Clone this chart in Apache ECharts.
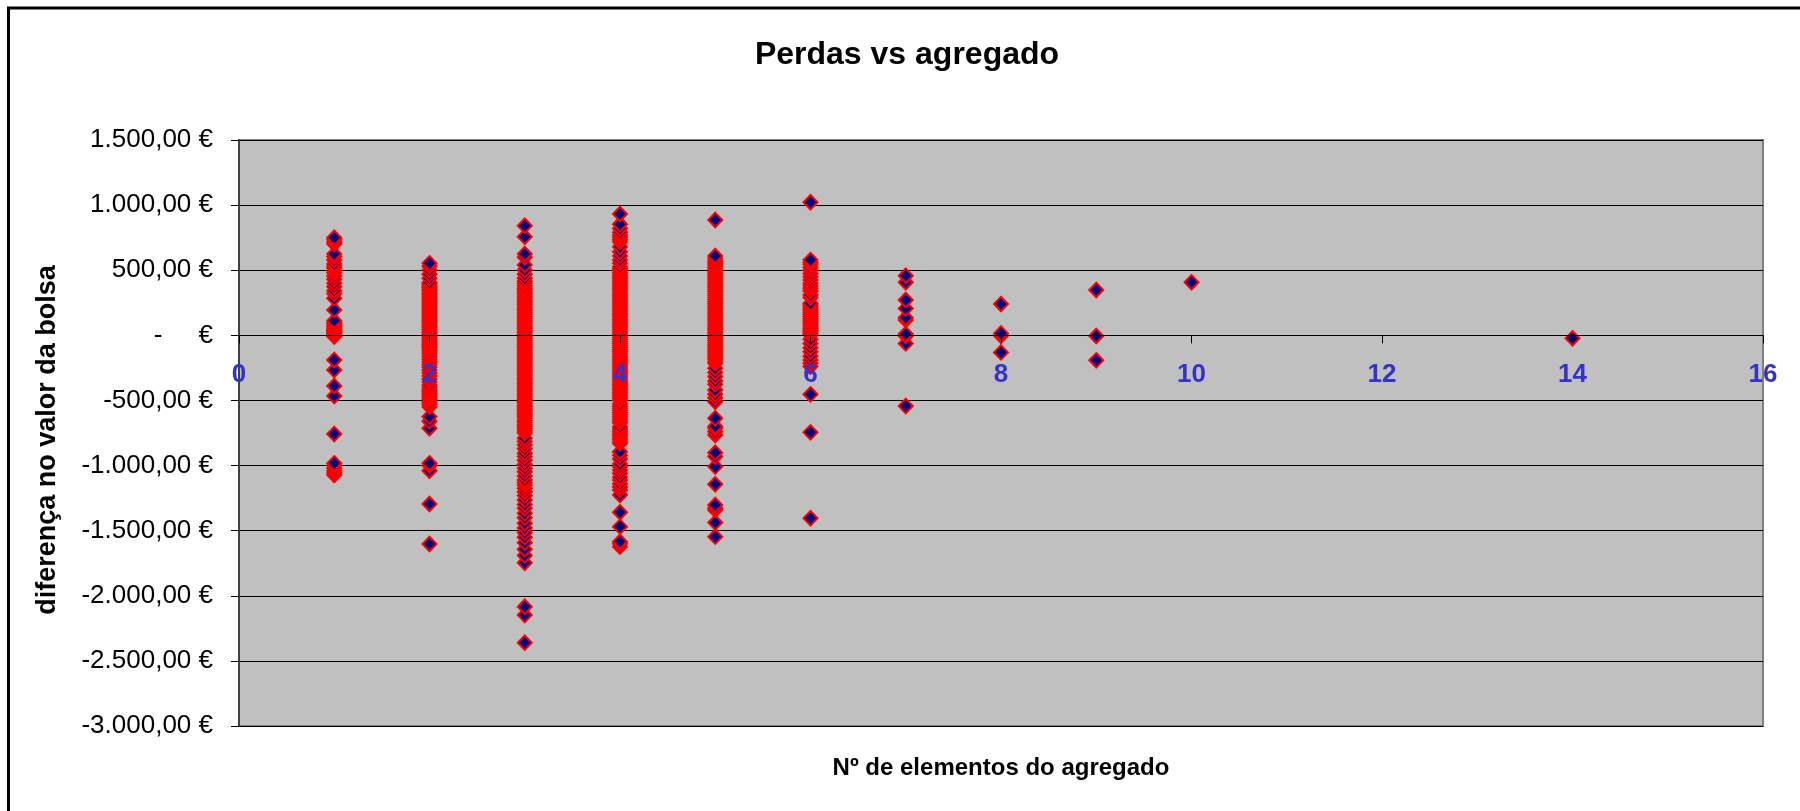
<!DOCTYPE html>
<html>
<head>
<meta charset="utf-8">
<script src="https://cdn.jsdelivr.net/npm/echarts@6/dist/echarts.min.js"></script>
<style>
html,body{margin:0;padding:0;background:#ffffff;}
#chart{width:1800px;height:811px;}
</style>
</head>
<body>
<div id="chart"></div>
<script>
// ---- texts ----
const chartTitle = 'Perdas vs agregado';
const xAxisTitle = 'Nº de elementos do agregado';
const yAxisTitle = 'diferença no valor da bolsa';

// ---- axis ticks ----
const xTicks = [0, 2, 4, 6, 8, 10, 12, 14, 16];
const yTicks = [-3000, -2500, -2000, -1500, -1000, -500, 0, 500, 1000, 1500];

// ---- data: loss (€) per aggregate size ----
const agg1 = [750, 735, 719, 701, 625, 605, 578, 548, 530, 515, 495, 481, 456, 430, 400, 374, 343, 320, 284, 195, 112, 100, 88, 76, 65, 55, 46, 37, 29, 21, 13, 6, -2, -9, -189, -266, -389, -466, -758, -983, -1000, -1021, -1040, -1055, -1073];
const agg2 = [553, 530, 502, 469, 438, 405, 392, 378, 365, 350, 338, 322, 310, 295, 281, 268, 252, 240, 225, 212, 198, 183, 170, 155, 141, 128, 113, 100, 86, 72, 58, 45, 30, 17, 3, -12, -26, -40, -55, -68, -82, -95, -113, -128, -146, -165, -185, -205, -225, -245, -268, -290, -312, -335, -356, -381, -400, -420, -434, -447, -460, -473, -490, -512, -530, -548, -625, -660, -714, -983, -1000, -1040, -1295, -1602];
const agg3 = [842, 757, 625, 600, 540, 502, 470, 438, 415, 400, 380, 362, 348, 330, 315, 298, 282, 266, 250, 236, 220, 204, 190, 175, 160, 143, 128, 112, 98, 82, 66, 52, 36, 20, 5, -10, -25, -40, -56, -70, -86, -100, -116, -130, -146, -160, -176, -190, -205, -220, -236, -250, -266, -280, -295, -310, -326, -340, -356, -370, -385, -400, -416, -430, -446, -460, -476, -490, -506, -520, -536, -550, -566, -580, -596, -610, -622, -637, -655, -670, -686, -700, -716, -732, -750, -790, -815, -842, -870, -906, -930, -960, -991, -1020, -1047, -1080, -1111, -1130, -1149, -1175, -1201, -1230, -1264, -1300, -1328, -1367, -1400, -1443, -1480, -1515, -1550, -1592, -1643, -1690, -1746, -2084, -2148, -2360];
const agg4 = [932, 853, 820, 791, 770, 753, 735, 719, 680, 642, 610, 578, 555, 527, 512, 497, 482, 466, 450, 435, 420, 404, 388, 373, 358, 342, 326, 310, 295, 280, 264, 248, 233, 218, 202, 186, 170, 155, 140, 124, 108, 92, 77, 62, 46, 30, 15, 0, -16, -32, -47, -62, -78, -94, -110, -125, -140, -156, -172, -188, -203, -218, -234, -250, -266, -281, -296, -312, -328, -344, -360, -375, -390, -406, -422, -438, -453, -468, -484, -500, -527, -545, -560, -576, -592, -608, -624, -640, -656, -672, -702, -720, -736, -752, -768, -784, -800, -816, -830, -894, -920, -950, -988, -1010, -1034, -1060, -1090, -1111, -1142, -1165, -1188, -1226, -1359, -1469, -1585, -1600, -1623];
const agg5 = [886, 609, 590, 570, 555, 540, 525, 510, 494, 478, 463, 448, 432, 416, 400, 385, 370, 354, 338, 322, 306, 290, 275, 260, 244, 228, 212, 196, 180, 165, 150, 134, 118, 102, 86, 70, 55, 40, 24, 8, -8, -24, -40, -56, -72, -88, -104, -120, -136, -152, -168, -184, -200, -215, -253, -285, -317, -350, -376, -420, -453, -480, -510, -637, -700, -714, -740, -765, -901, -930, -1008, -1144, -1303, -1325, -1341, -1438, -1546];
const agg6 = [1022, 578, 560, 545, 522, 500, 475, 450, 425, 400, 380, 361, 340, 310, 290, 246, 232, 220, 205, 190, 175, 160, 145, 130, 115, 100, 85, 70, 55, 40, 27, 15, 2, -30, -62, -95, -126, -160, -189, -215, -240, -453, -745, -1405];
const agg7 = [458, 407, 271, 207, 135, 118, 10, -5, -62, -543];
const agg8 = [240, 15, -3, -131];
const agg9 = [348, -5, -192];
const agg10 = [407];
const agg14 = [-23];

const aggregateSizes = [1, 2, 3, 4, 5, 6, 7, 8, 9, 10, 14];
const aggregateValues = [agg1, agg2, agg3, agg4, agg5, agg6, agg7, agg8, agg9, agg10, agg14];

// build scatter points (drawn from the lowest value upwards, like the original)
const points = [];
aggregateSizes.forEach(function (n, i) {
  aggregateValues[i].slice().sort(function (a, b) { return a - b; }).forEach(function (v) {
    points.push([n, v]);
  });
});

function euroLabel(v) {
  if (v === 0) return '-     €';
  const parts = Math.abs(v).toFixed(2).split('.');
  const intPart = parts[0].replace(/\B(?=(\d{3})+(?!\d))/g, '.');
  return (v < 0 ? '-' : '') + intPart + ',' + parts[1] + ' €';
}

const FONT = "'Liberation Sans', Arial, sans-serif";
const GRID_TOP = 140, GRID_H = 586;
const yMin = yTicks[0], yMax = yTicks[yTicks.length - 1];
// the horizontal axis crosses the vertical axis at 0: shift it up from the grid bottom
const zeroOffset = -GRID_H * (0 - yMin) / (yMax - yMin);

const chart = echarts.init(document.getElementById('chart'), null, {renderer: 'canvas'});

chart.setOption({
  animation: false,
  backgroundColor: '#ffffff',
  grid: {
    left: 239, top: GRID_TOP, width: 1524, height: GRID_H,
    show: true, backgroundColor: '#C0C0C0', borderColor: '#808080', borderWidth: 2,
    containLabel: false, outerBoundsMode: 'none'
  },
  xAxis: {
    type: 'value',
    position: 'bottom',
    offset: zeroOffset,
    z: 5,
    min: xTicks[0], max: xTicks[xTicks.length - 1], interval: xTicks[1] - xTicks[0],
    axisLine: {show: true, onZero: false, lineStyle: {color: '#000000', width: 1}},
    axisTick: {show: true, length: 8, inside: false, lineStyle: {color: '#000000', width: 1}},
    axisLabel: {
      show: true, margin: 26, color: '#3333CC', fontSize: 26, fontWeight: 'bold', fontFamily: FONT,
      showMinLabel: true, showMaxLabel: true, hideOverlap: false
    },
    splitLine: {show: false}
  },
  yAxis: {
    type: 'value',
    min: yMin, max: yMax, interval: yTicks[1] - yTicks[0],
    axisLine: {show: true, onZero: false, lineStyle: {color: '#404040', width: 2}},
    axisTick: {show: true, length: 8, inside: false, lineStyle: {color: '#000000', width: 1}},
    axisLabel: {
      show: true, margin: 26, color: '#000000', fontSize: 26, fontFamily: FONT,
      showMinLabel: true, showMaxLabel: true, hideOverlap: false,
      formatter: euroLabel
    },
    splitLine: {show: true, lineStyle: {color: '#000000', width: 1}}
  },
  series: [{
    type: 'scatter',
    data: points,
    symbol: 'diamond',
    symbolSize: [14, 14.5],
    large: false,
    progressive: 0,
    silent: true,
    itemStyle: {color: '#000080', borderColor: '#FF0000', borderWidth: 2, opacity: 1},
    emphasis: {disabled: true}
  }],
  graphic: [
    {type: 'rect', silent: true, z: 100,
      shape: {x: 8.5, y: 8, width: 1830, height: 900},
      style: {fill: 'none', stroke: '#000000', lineWidth: 3}},
    {type: 'text', silent: true, x: 907, y: 55,
      style: {text: chartTitle, font: 'bold 32px ' + FONT, fill: '#000000', textAlign: 'center', textVerticalAlign: 'middle'}},
    {type: 'text', silent: true, x: 1001, y: 768.5,
      style: {text: xAxisTitle, font: 'bold 24px ' + FONT, fill: '#000000', textAlign: 'center', textVerticalAlign: 'middle'}},
    {type: 'text', silent: true, x: 48, y: 440, rotation: Math.PI / 2,
      style: {text: yAxisTitle, font: 'bold 27px ' + FONT, fill: '#000000', textAlign: 'center', textVerticalAlign: 'middle'}}
  ]
});
</script>
</body>
</html>
